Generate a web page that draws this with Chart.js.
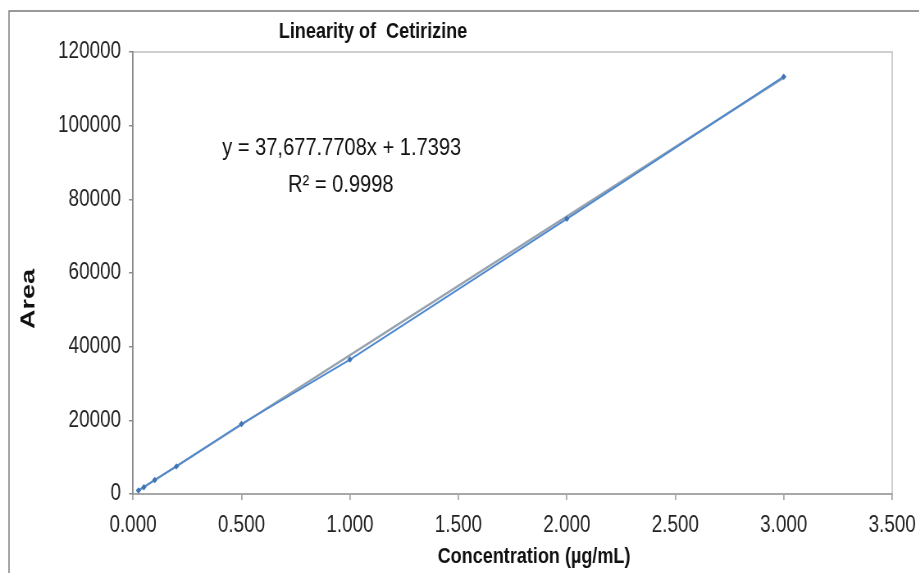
<!DOCTYPE html>
<html>
<head>
<meta charset="utf-8">
<script src="https://cdn.jsdelivr.net/npm/chart.js@4.4.1/dist/chart.umd.min.js"></script>
<style>
  html, body { margin: 0; padding: 0; background: #ffffff; overflow: hidden; width: 919px; height: 573px; }
  #wrap { position: absolute; left: 0; top: 0; width: 1121px; height: 573px; transform: scaleX(0.82); transform-origin: 0 0; }
  #c { display: block; }
</style>
</head>
<body>
<div id="wrap"><canvas id="c"></canvas></div>
<script>
// ---- data ----
const concentrations = [0.025, 0.05, 0.1, 0.2, 0.5, 1.0, 2.0, 3.0];
const areas = [950, 1850, 3800, 7500, 19000, 36500, 74700, 113300];
// linear trendline end points (from the printed equation)
const trendX = [0.025, 3.0];
const trendY = [944, 113035];
const yTicks = [0, 20000, 40000, 60000, 80000, 100000, 120000];
const xTicks = [0, 0.5, 1.0, 1.5, 2.0, 2.5, 3.0, 3.5];
const chartTitle = 'Linearity of  Cetirizine';
const xTitle = 'Concentration (\u00b5g/mL)';
const yTitle = 'Area';
const eqLines = ['y = 37,677.7708x + 1.7393', 'R\u00b2 = 0.9998'];

// the canvas is drawn wider and squeezed horizontally by CSS (narrow-font look)
const SX = 0.82;
const px = v => v / SX;
const FONT = "'Liberation Sans', Arial, sans-serif";

const dataPts = concentrations.map((x, i) => ({x, y: areas[i]}));
const trendPts = trendX.map((x, i) => ({x, y: trendY[i]}));

const decor = {
  id: 'decor',
  beforeDraw(chart) {
    const ctx = chart.ctx;
    ctx.save();
    ctx.strokeStyle = '#7a7a7a';
    ctx.lineWidth = 1.5;
    ctx.beginPath();
    ctx.moveTo(px(9), 573); ctx.lineTo(px(9), 11); ctx.lineTo(chart.width, 11);
    ctx.stroke();
    const a = chart.chartArea;
    ctx.strokeStyle = '#cfcfcf';
    ctx.lineWidth = 2;
    ctx.beginPath();
    ctx.moveTo(a.left, a.top); ctx.lineTo(a.right, a.top); ctx.lineTo(a.right, a.bottom);
    ctx.stroke();
    ctx.restore();
  },
  afterDraw(chart) {
    const ctx = chart.ctx;
    const xs = chart.scales.x, ys = chart.scales.y;
    ctx.save();
    ctx.fillStyle = '#111';
    ctx.textAlign = 'center';
    ctx.textBaseline = 'middle';
    ctx.font = "bold 22px " + FONT;
    ctx.fillText(chartTitle, px(373), 32);
    ctx.font = "bold 22px " + FONT;
    ctx.fillText(xTitle, px(534), 557);
    ctx.font = "24.5px " + FONT;
    ctx.fillText(eqLines[0], xs.getPixelForValue(0.962), ys.getPixelForValue(93900));
    ctx.fillText(eqLines[1], xs.getPixelForValue(0.958), ys.getPixelForValue(83800));
    ctx.translate(px(29), 299);
    ctx.rotate(-Math.PI / 2);
    ctx.scale(1.42, 1 / SX);
    ctx.font = "bold 19px " + FONT;
    ctx.fillText(yTitle, 0, 0);
    ctx.restore();
  }
};

new Chart(document.getElementById('c'), {
  type: 'scatter',
  data: {
    datasets: [
      {
        label: 'Area',
        data: dataPts,
        showLine: true,
        borderColor: '#4f8ad0',
        borderWidth: 1.9,
        pointStyle: 'rectRot',
        pointRadius: 3.2,
        pointBackgroundColor: '#3f74b6',
        pointBorderColor: '#3f74b6',
        pointBorderWidth: 0,
        fill: false
      },
      {
        label: 'Trendline',
        data: trendPts,
        showLine: true,
        borderColor: 'rgba(140,152,166,0.9)',
        borderWidth: 2.4,
        pointRadius: 0,
        fill: false
      }
    ]
  },
  options: {
    responsive: true,
    maintainAspectRatio: false,
    animation: false,
    layout: { padding: { left: 0, top: 52, right: px(27), bottom: 0 }, autoPadding: false },
    plugins: { legend: { display: false }, tooltip: { enabled: false }, title: { display: false } },
    scales: {
      x: {
        type: 'linear',
        min: 0, max: 3.5,
        afterBuildTicks(scale) { scale.ticks = xTicks.map(v => ({value: v})); },
        afterFit(scale) { scale.height = 79; scale.paddingLeft = 0; scale.paddingRight = 0; },
        grid: { drawOnChartArea: false, drawTicks: true, tickLength: 6, color: '#a8a8a8', lineWidth: 1.8 },
        border: { display: true, color: '#a8a8a8', width: 2 },
        ticks: {
          color: '#222',
          font: { family: FONT, size: 23 },
          padding: 12,
          maxRotation: 0,
          callback: v => Number(v).toFixed(3)
        }
      },
      y: {
        type: 'linear',
        min: 0, max: 120000,
        afterBuildTicks(scale) { scale.ticks = yTicks.map(v => ({value: v})); },
        afterFit(scale) { scale.width = px(133); scale.paddingTop = 0; scale.paddingBottom = 0; },
        grid: { drawOnChartArea: false, drawTicks: true, tickLength: px(4), color: '#8a8a8a', lineWidth: 1.5 },
        border: { display: true, color: '#8a8a8a', width: 1.8 },
        ticks: {
          color: '#222',
          font: { family: FONT, size: 23 },
          padding: px(8),
          callback: v => String(v)
        }
      }
    }
  },
  plugins: [decor]
});
</script>
</body>
</html>
